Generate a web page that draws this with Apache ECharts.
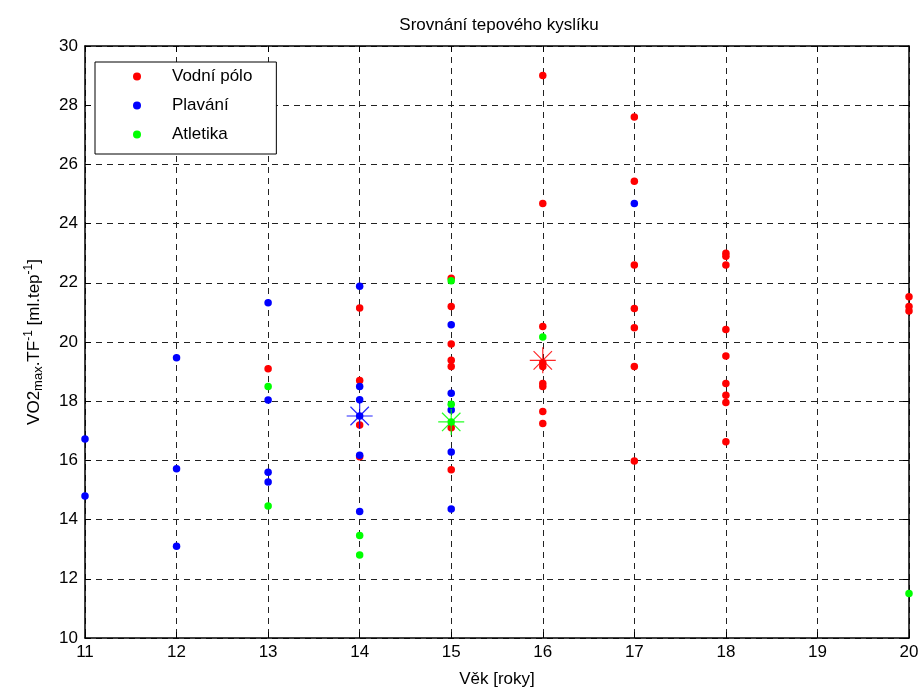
<!doctype html>
<html lang="cs">
<head>
  <meta charset="utf-8">
  <title>Srovnání tepového kyslíku</title>
  <script src="https://cdn.jsdelivr.net/npm/echarts@6/dist/echarts.min.js"></script>
  <style>
    html, body { margin: 0; padding: 0; background: #fff; }
    #chart { width: 921px; height: 688px; }
  </style>
</head>
<body>
  <div id="chart"></div>
  <script>
    // data [věk, VO2max/TF]
    var vodniPolo = [
      [13, 19.1],
      [14, 21.15], [14, 18.7], [14, 17.2], [14, 16.12],
      [15, 22.15], [15, 21.2], [15, 19.93], [15, 19.38], [15, 19.17], [15, 17.1], [15, 15.68],
      [16, 29.0], [16, 24.68], [16, 20.52], [16, 19.3], [16, 19.17], [16, 18.6], [16, 18.5], [16, 17.65], [16, 17.25],
      [17, 27.6], [17, 25.43], [17, 22.6], [17, 21.13], [17, 20.48], [17, 19.17], [17, 15.98],
      [18, 23.0], [18, 22.9], [18, 22.6], [18, 20.42], [18, 19.53], [18, 18.6], [18, 18.2], [18, 17.96], [18, 16.63],
      [20, 21.53], [20, 21.2], [20, 21.05]
    ];
    var plavani = [
      [11, 16.72], [11, 14.8],
      [12, 19.47], [12, 15.72], [12, 13.1],
      [13, 21.33], [13, 18.04], [13, 15.6], [13, 15.27],
      [14, 21.88], [14, 18.5], [14, 18.05], [14, 17.5], [14, 16.17], [14, 14.27],
      [15, 20.58], [15, 18.27], [15, 17.7], [15, 16.28], [15, 14.36],
      [17, 24.68]
    ];
    var atletika = [
      [13, 18.5], [13, 14.46],
      [14, 13.46], [14, 12.8],
      [15, 22.07], [15, 17.9], [15, 17.3],
      [16, 20.17],
      [20, 11.5]
    ];
    // průměry (hvězdičky)
    var prumerVodniPolo = [[16, 19.38]];
    var prumerPlavani = [[14, 17.5]];
    var prumerAtletika = [[15, 17.3]];

    var xTicks = [11, 20, 1];
    var yTicks = [10, 30, 2];

    var asterisk = 'path://M0,12L24,12M12,0L12,24M3.5,3.5L20.5,20.5M20.5,3.5L3.5,20.5';

    var dots = function (name, data, color) {
      return {
        name: name, type: 'scatter', data: data,
        symbol: 'circle', symbolSize: 7.5,
        itemStyle: { color: color, opacity: 1 },
        z: 3
      };
    };
    var star = function (name, data, color) {
      return {
        name: name, type: 'scatter', data: data,
        symbol: asterisk, symbolSize: 26,
        itemStyle: { color: 'none', borderColor: color, borderWidth: 1.2, opacity: 0.85 },
        z: 4
      };
    };

    var chart = echarts.init(document.getElementById('chart'));
    var font = 'Liberation Sans, Arial, sans-serif';
    var gridLine = { show: true, lineStyle: { color: '#222', type: [6, 5], width: 1 } };

    chart.setOption({
      animation: false,
      textStyle: { fontFamily: font },
      title: {
        text: 'Srovnání tepového kyslíku',
        left: 494, top: 12, textAlign: 'center',
        textStyle: { fontSize: 17, fontWeight: 'normal', color: '#000', fontFamily: font }
      },
      legend: {
        data: ['Vodní pólo', 'Plavání', 'Atletika'],
        orient: 'vertical',
        left: 95, top: 62,
        padding: [6, 24, 11, 38],
        itemGap: 12,
        itemWidth: 8, itemHeight: 8,
        icon: 'circle',
        borderColor: '#000', borderWidth: 1,
        backgroundColor: '#fff',
        textStyle: { fontSize: 17, color: '#000', fontFamily: font, padding: [0, 0, 0, 26] }
      },
      grid: { left: 85, right: 12, top: 46, bottom: 50, outerBoundsMode: 'none', containLabel: false },
      xAxis: [{
        type: 'value', min: xTicks[0], max: xTicks[1], interval: xTicks[2],
        name: 'Věk [roky]', nameLocation: 'middle', nameGap: 33,
        nameTextStyle: { fontSize: 17, color: '#000' },
        axisLine: { onZero: false, lineStyle: { color: '#000', width: 1.5 } },
        axisTick: { inside: true, length: 6, lineStyle: { color: '#000' } },
        axisLabel: { fontSize: 17, color: '#000', margin: 6 },
        splitLine: gridLine
      }, {
        type: 'value', position: 'top', min: xTicks[0], max: xTicks[1], interval: xTicks[2],
        axisLine: { onZero: false, lineStyle: { color: '#000', width: 1.5 } },
        axisTick: { inside: true, length: 6, lineStyle: { color: '#000' } },
        axisLabel: { show: false },
        splitLine: { show: false }
      }],
      yAxis: [{
        type: 'value', min: yTicks[0], max: yTicks[1], interval: yTicks[2],
        name: 'VO2{sub|max}.TF{sup|-1} [ml.tep{sup|-1}]',
        nameLocation: 'middle', nameGap: 40, nameRotate: 90,
        nameTextStyle: {
          fontSize: 17, color: '#000',
          rich: {
            sub: { fontSize: 13, color: '#000', verticalAlign: 'bottom', padding: [9, 0, 0, 0] },
            sup: { fontSize: 12, color: '#000', verticalAlign: 'top', padding: [0, 0, 9, 0] }
          }
        },
        axisLine: { onZero: false, lineStyle: { color: '#000', width: 1.5 } },
        axisTick: { inside: true, length: 6, lineStyle: { color: '#000' } },
        axisLabel: { fontSize: 17, color: '#000', margin: 7 },
        splitLine: gridLine
      }, {
        type: 'value', position: 'right', min: yTicks[0], max: yTicks[1], interval: yTicks[2],
        axisLine: { onZero: false, lineStyle: { color: '#000', width: 1.5 } },
        axisTick: { inside: true, length: 6, lineStyle: { color: '#000' } },
        axisLabel: { show: false },
        splitLine: { show: false }
      }],
      series: [
        dots('Vodní pólo', vodniPolo, '#ff0000'),
        dots('Plavání', plavani, '#0000ff'),
        dots('Atletika', atletika, '#00ff00'),
        star('průměr Vodní pólo', prumerVodniPolo, '#ff0000'),
        star('průměr Plavání', prumerPlavani, '#0000ff'),
        star('průměr Atletika', prumerAtletika, '#00ff00')
      ]
    });
  </script>
</body>
</html>
